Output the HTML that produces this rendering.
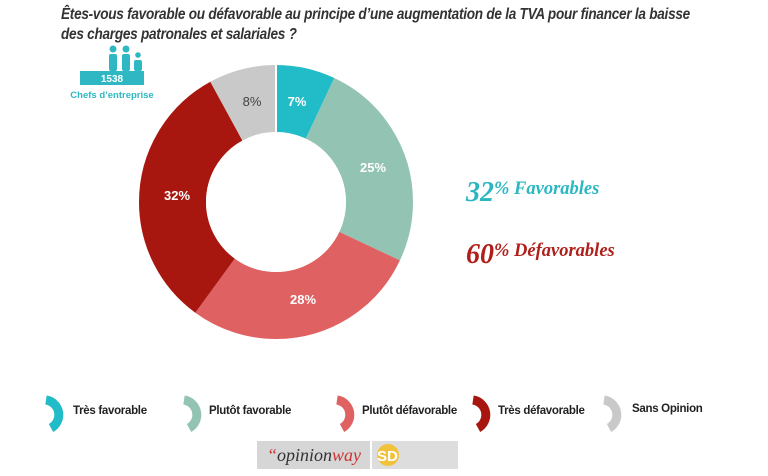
<!DOCTYPE html>
<html><head><meta charset="utf-8"><style>
body{margin:0;width:768px;height:476px;background:#fff;overflow:hidden;position:relative;font-family:"Liberation Sans",sans-serif}
.t{position:absolute;left:61px;top:5px;font-size:15.8px;font-style:italic;font-weight:bold;color:#333;line-height:20px;letter-spacing:-0.3px;white-space:nowrap;transform:scaleX(0.86);transform-origin:0 0}
.lg{position:absolute;top:405px;font-size:11.5px;font-weight:bold;color:#222;letter-spacing:-0.3px}
</style></head><body>
<div class="t">Êtes-vous favorable ou défavorable au principe d’une augmentation de la TVA pour financer la baisse<br>des charges patronales et salariales ?</div>
<svg width="768" height="476" style="position:absolute;left:0;top:0">
<g fill="#2fb8c3">
<circle cx="113" cy="49" r="3.5"/><rect x="109" y="54" width="8" height="17" rx="2"/>
<circle cx="126" cy="49" r="3.5"/><rect x="122" y="54" width="8" height="17" rx="2"/>
<circle cx="138" cy="55" r="2.8"/><rect x="134" y="60" width="8" height="11" rx="2"/>
<rect x="80" y="71" width="64" height="14"/>
</g>
<text x="112" y="82" font-size="10" font-weight="bold" fill="#fff" text-anchor="middle" font-family="Liberation Sans">1538</text>
<text x="112" y="98" font-size="9.5" font-weight="bold" fill="#2fb8c3" text-anchor="middle" font-family="Liberation Sans">Chefs d’entreprise</text>
<g transform="rotate(-90 276 202)" fill="none" stroke-width="67">
<circle cx="276" cy="202" r="103.5" stroke="#21bcc8" stroke-dasharray="45.5 700" stroke-dashoffset="0"/>
<circle cx="276" cy="202" r="103.5" stroke="#93c3b3" stroke-dasharray="162.6 700" stroke-dashoffset="-45.5"/>
<circle cx="276" cy="202" r="103.5" stroke="#df6161" stroke-dasharray="182.1 700" stroke-dashoffset="-208.1"/>
<circle cx="276" cy="202" r="103.5" stroke="#a8170f" stroke-dasharray="208.1 700" stroke-dashoffset="-390.2"/>
<circle cx="276" cy="202" r="103.5" stroke="#c9c9c9" stroke-dasharray="52 700" stroke-dashoffset="-598.3"/>
</g>
<line x1="276" y1="202" x2="276" y2="60" stroke="#fff" stroke-width="2"/>
<circle cx="276" cy="202" r="70" fill="#fff"/>
<g font-family="Liberation Sans" font-size="13" font-weight="bold" text-anchor="middle">
<text x="297" y="106" fill="#fff">7%</text>
<text x="373" y="172" fill="#fff">25%</text>
<text x="303" y="304" fill="#fff">28%</text>
<text x="177" y="200" fill="#fff">32%</text>
<text x="252" y="106" fill="#444" font-weight="normal">8%</text>
</g>
<g font-family="Liberation Serif" font-style="italic" font-weight="bold">
<text x="466" y="201" font-size="28" fill="#2ab7c2">32<tspan font-size="18.5" dy="-7">% Favorables</tspan></text>
<text x="466" y="263" font-size="28" fill="#b01f1a">60<tspan font-size="18.5" dy="-7">% Défavorables</tspan></text>
</g>
<g fill="none" stroke-width="9">
<path d="M46 400 A15 15 0 0 1 51 428" stroke="#21bcc8"/>
<path d="M184 400 A15 15 0 0 1 189 428" stroke="#93c3b3"/>
<path d="M337 400 A15 15 0 0 1 342 428" stroke="#df6161"/>
<path d="M473 400 A15 15 0 0 1 478 428" stroke="#a8170f"/>
<path d="M604 400 A15 15 0 0 1 609 428" stroke="#c9c9c9"/>
</g>
<rect x="257" y="441" width="113" height="28" fill="#d6d6d6"/>
<text x="267" y="461" font-family="Liberation Serif" font-style="italic" font-size="18" fill="#333"><tspan fill="#c33">“</tspan>opinion<tspan fill="#c33">way</tspan></text>
<rect x="372" y="441" width="86" height="28" fill="#ddd"/>
<circle cx="388" cy="455" r="11" fill="#f2c23a"/>
<text x="377" y="461" font-family="Liberation Sans" font-weight="bold" font-size="15" fill="#fff">SD</text>
</svg>
<div class="lg" style="left:73px">Très favorable</div>
<div class="lg" style="left:209px">Plutôt favorable</div>
<div class="lg" style="left:362px">Plutôt défavorable</div>
<div class="lg" style="left:498px">Très défavorable</div>
<div class="lg" style="left:632px;top:403px">Sans Opinion</div>
</body></html>
